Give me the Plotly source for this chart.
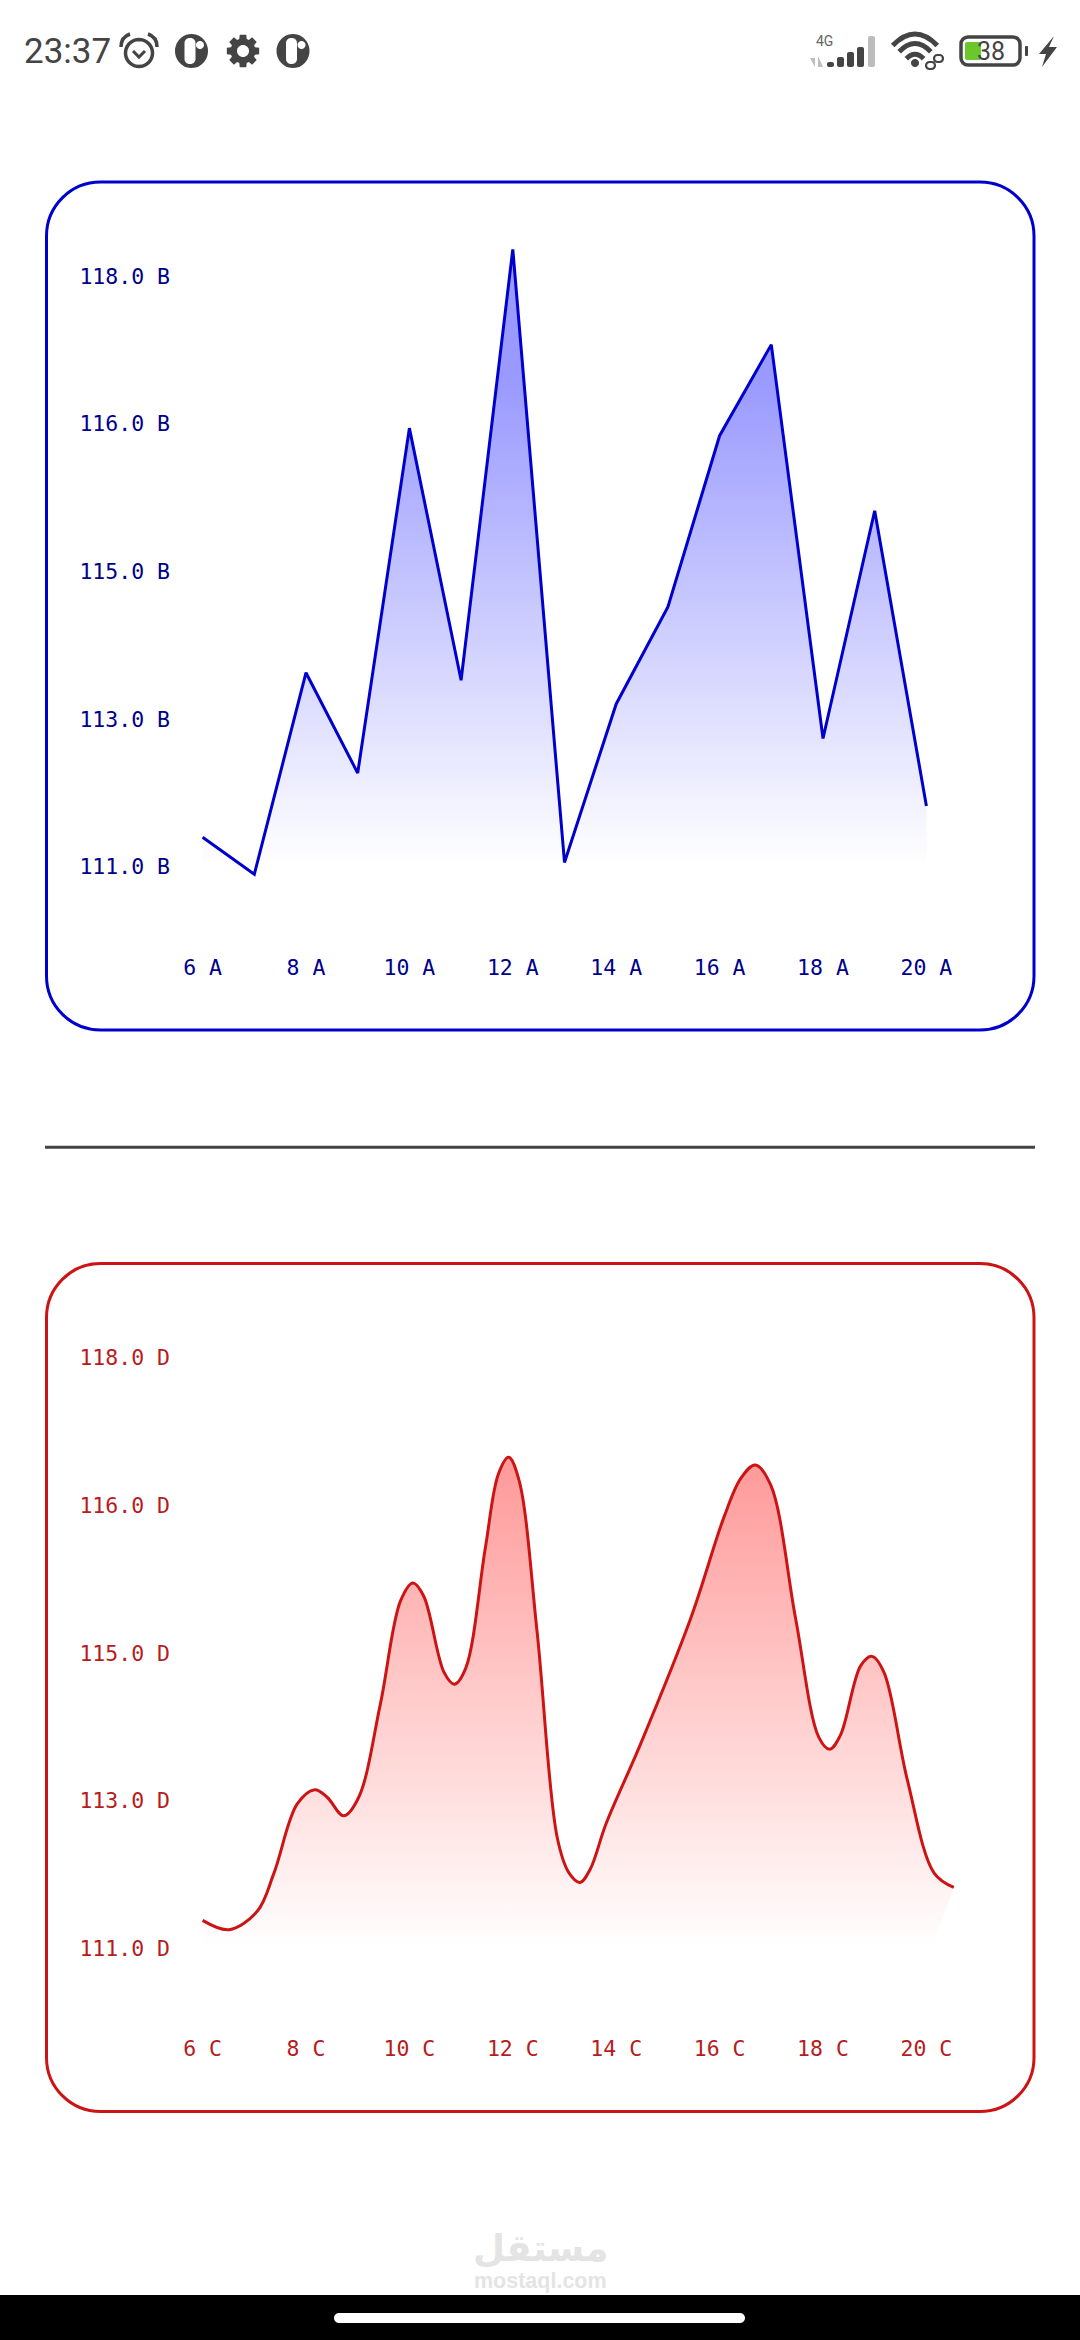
import math
import plotly.graph_objects as go

W, H = 1080, 2340

# ---- data -------------------------------------------------------------
hours = [6, 7, 8, 9, 10, 11, 12, 13, 14, 15, 16, 17, 18, 19, 20]
blue_values = [111.35, 110.91, 113.30, 112.11, 116.20, 113.21, 118.32, 111.05,
               112.93, 114.08, 116.11, 117.19, 112.52, 115.22, 111.72]

red_x = [6.0, 6.51, 7.06, 7.38, 7.83, 8.17, 8.41, 8.73, 9.02, 9.44, 9.83, 10.07, 10.28, 10.67, 10.87,
         11.09, 11.47, 11.72, 11.92, 12.12, 12.47, 12.86, 13.09, 13.30, 13.50, 13.80, 14.47, 15.44,
         16.09, 16.41, 16.69, 16.99, 17.47, 17.92, 18.13, 18.34, 18.73, 18.95, 19.18, 19.63, 20.15, 20.53]
red_y = [111.33, 111.22, 111.44, 111.89, 112.71, 112.88, 112.79, 112.57, 112.79, 113.90, 115.12, 115.33,
         115.17, 114.27, 114.13, 114.32, 115.75, 116.62, 116.82, 116.55, 114.75, 112.31, 111.89, 111.78,
         111.94, 112.47, 113.42, 114.91, 116.12, 116.57, 116.73, 116.49, 114.91, 113.50, 113.36, 113.53,
         114.35, 114.46, 114.27, 113.0, 111.89, 111.72]

y_ticks = [111, 112.75, 114.5, 116.25, 118]
y_tick_numbers = ["111.0", "113.0", "115.0", "116.0", "118.0"]
x_ticks = [6, 8, 10, 12, 14, 16, 18, 20]

BLUE_LINE, BLUE_TEXT = "#0000CD", "#00008B"
RED_LINE, RED_TEXT = "#CC1414", "#B71C1C"
DARK = "#444444"
MONO = "DejaVu Sans Mono"
GRADIENT_STOP = 116.8

# ---- helpers ----------------------------------------------------------
def X(p): return p / W
def Y(p): return 1 - p / H
def P(x, y): return f"{X(x):.5f},{Y(y):.5f}"

def round_rect(x0, y0, x1, y1, r):
    k = r * 0.448
    return (f"M{P(x0+r,y0)} L{P(x1-r,y0)} C{P(x1-k,y0)} {P(x1,y0+k)} {P(x1,y0+r)} "
            f"L{P(x1,y1-r)} C{P(x1,y1-k)} {P(x1-k,y1)} {P(x1-r,y1)} "
            f"L{P(x0+r,y1)} C{P(x0+k,y1)} {P(x0,y1-k)} {P(x0,y1-r)} "
            f"L{P(x0,y0+r)} C{P(x0,y0+k)} {P(x0+k,y0)} {P(x0+r,y0)} Z")

def poly(pts):
    return "M" + " L".join(P(a, b) for a, b in pts) + " Z"

def circle(cx, cy, rx, ry=None, n=40):
    ry = ry or rx
    return poly([(cx + rx*math.cos(2*math.pi*i/n), cy + ry*math.sin(2*math.pi*i/n)) for i in range(n)])

shapes = []
def fill_shape(path, color):
    shapes.append(dict(type="path", path=path, xref="paper", yref="paper", fillcolor=color, line=dict(width=0), layer="above"))
def stroke_shape(path, color, w, layer="above"):
    shapes.append(dict(type="path", path=path, xref="paper", yref="paper", line=dict(color=color, width=w), layer=layer))

fig = go.Figure()

# ---- chart traces -----------------------------------------------------
def add_chart(n, x, y, shape, line_color, rgb, base_x, base_y):
    xa, ya = ("x", "y") if n == 1 else (f"x{n}", f"y{n}")
    fig.add_trace(go.Scatter(x=base_x, y=base_y, mode="lines", line=dict(width=0), xaxis=xa, yaxis=ya,
                             showlegend=False, hoverinfo="skip"))
    fig.add_trace(go.Scatter(x=x, y=y, mode="lines", xaxis=xa, yaxis=ya, showlegend=False,
                             line=dict(color=line_color, width=3, shape=shape, smoothing=1.0),
                             fill="tonexty",
                             fillgradient=dict(type="vertical", start=111, stop=GRADIENT_STOP,
                                               colorscale=[[0, f"rgba({rgb},0)"], [1, f"rgba({rgb},0.4)"]])))

add_chart(1, hours, blue_values, "linear", BLUE_LINE, "0,0,255", [6, 20], [111, 111])
add_chart(2, red_x, red_y, "spline", RED_LINE, "255,0,0", [6, 20.1, 20.53], [111, 111, 111.72])

# ---- axes -------------------------------------------------------------
PX_LEFT, PX_RIGHT = 171, 980
X_AT_6, X_STEP = 202.6, 51.7
Y_AT_111, Y_STEP = 866.7, 147.6 / 1.75
x_range = [6 - (X_AT_6 - PX_LEFT) / X_STEP, 6 + (PX_RIGHT - X_AT_6) / X_STEP]
TOP, BOT = 200, 945
y_range = [111 + (Y_AT_111 - BOT) / Y_STEP, 111 + (Y_AT_111 - TOP) / Y_STEP]
OFFSET = 1081.5

def x_axis(anchor, letter, color):
    return dict(domain=[X(PX_LEFT), X(PX_RIGHT)], range=x_range, anchor=anchor, showgrid=False, zeroline=False,
                showline=False, ticks="", tickmode="array", tickvals=x_ticks,
                ticktext=[f"{t} {letter}" for t in x_ticks], ticklabelstandoff=7,
                tickfont=dict(family=MONO, size=21.5, color=color))
def y_axis(anchor, top, bot, letter, color):
    return dict(domain=[Y(bot), Y(top)], range=y_range, anchor=anchor, showgrid=False, zeroline=False,
                showline=False, ticks="", tickmode="array", tickvals=y_ticks,
                ticktext=[f"{t} {letter}" for t in y_tick_numbers],
                tickfont=dict(family=MONO, size=21.5, color=color))

# ---- panels & divider -------------------------------------------------
stroke_shape(round_rect(46.5, 182, 1034, 1030, 54), BLUE_LINE, 3, "below")
stroke_shape(round_rect(46.5, 182+OFFSET, 1034, 1030+OFFSET, 54), RED_LINE, 3, "below")
shapes.append(dict(type="line", xref="paper", yref="paper", x0=X(45), x1=X(1035), y0=Y(1147.3), y1=Y(1147.3),
                   line=dict(color=DARK, width=3), layer="below"))

# ---- status bar icons -------------------------------------------------
# alarm
stroke_shape(circle(139, 53, 13.5), DARK, 3.5)
stroke_shape(f"M{P(133,51)} L{P(139,57)} L{P(145,51)}", DARK, 3)
stroke_shape(f"M{P(121,47)} Q{P(121,37)} {P(130,34)}", DARK, 3.5)
stroke_shape(f"M{P(157,47)} Q{P(157,37)} {P(148,34)}", DARK, 3.5)
# P icons
for cx in (191.5, 293):
    fill_shape(circle(cx, 51, 16.5, 17), DARK)
    fill_shape(round_rect(cx-7, 38, cx+4, 64, 5), "#FFFFFF")
    fill_shape(circle(cx+8.5, 45, 4), "#FFFFFF")
# gear
gear = []
for i in range(8):
    a = 2*math.pi*i/8
    for da, r in ((-0.3, 12.5), (-0.2, 16.5), (0.2, 16.5), (0.3, 12.5)):
        gear.append((243 + r*math.cos(a+da), 51 + r*math.sin(a+da)))
fill_shape(poly(gear), DARK)
fill_shape(circle(243, 51, 6), "#FFFFFF")
# signal
for x0, top, col in [(827, 62, DARK), (837, 57, DARK), (847, 52, DARK), (857, 47, DARK), (868, 36, "#BDBDBD")]:
    fill_shape(round_rect(x0, top, x0+7, 67, 2), col)
fill_shape(poly([(810, 58), (815, 58), (815, 67)]), "#BDBDBD")
fill_shape(poly([(818, 67), (823, 67), (818, 56)]), "#BDBDBD")
# wifi
for r, w in ((12, 5), (22, 5), (31, 5)):
    a = math.radians(46)
    cx, cy = 915, 67
    xs, ys = cx - r*math.sin(a), cy - r*math.cos(a)
    stroke_shape(f"M{P(xs,ys)} Q{P(cx, cy - r/math.cos(a))} {P(2*cx-xs,ys)}", DARK, w)
fill_shape(circle(915, 63, 4), DARK)
fill_shape(circle(934, 62, 9.5), "#FFFFFF")
stroke_shape(round_rect(926, 62, 935, 69, 3.5), DARK, 2.2)
stroke_shape(round_rect(934, 55, 943, 62, 3.5), DARK, 2.2)
# battery
stroke_shape(round_rect(961, 37, 1020, 65, 7), DARK, 3.5)
fill_shape(round_rect(965, 42, 981, 60, 2), "#6CC72C")
fill_shape(round_rect(1025, 46, 1028, 56, 1), DARK)
fill_shape(poly([(1054, 36), (1039, 54), (1046, 54), (1042, 67), (1057, 47), (1049, 47)]), DARK)

# ---- bottom bar -------------------------------------------------------
fill_shape(poly([(0, 2295), (W, 2295), (W, H), (0, H)]), "#000000")
fill_shape(round_rect(334, 2313, 745, 2323, 5), "#FFFFFF")

# ---- text annotations -------------------------------------------------
def note(text, x, y, size, color, family, anchor="center", bold=False):
    return dict(text=f"<b>{text}</b>" if bold else text, x=X(x), y=Y(y), xref="paper", yref="paper",
                xanchor=anchor, yanchor="middle", showarrow=False, font=dict(size=size, color=color, family=family))

annotations = [
    note("23:37", 22, 51, 35, DARK, "Roboto", "left"),
    note("4G", 824, 41, 14, "#666666", "Roboto"),
    note("38", 991, 51, 25, DARK, "Roboto"),
    note("مستقل", 540, 2248, 37, "#E4E4E4", "DejaVu Sans", bold=True),
    note("mostaql.com", 540, 2281, 21.5, "#E4E4E4", "Liberation Sans", bold=True),
]

fig.update_layout(
    width=W, height=H, autosize=False, margin=dict(l=0, r=0, t=0, b=0),
    paper_bgcolor="white", plot_bgcolor="rgba(0,0,0,0)", showlegend=False,
    xaxis=x_axis("y", "A", BLUE_TEXT), yaxis=y_axis("x", TOP, BOT, "B", BLUE_TEXT),
    xaxis2=x_axis("y2", "C", RED_TEXT), yaxis2=y_axis("x2", TOP+OFFSET, BOT+OFFSET, "D", RED_TEXT),
    shapes=shapes, annotations=annotations,
)

fig.write_html("out.html", config={"displayModeBar": False, "responsive": False},
               post_script="document.body.style.margin='0';document.documentElement.style.overflow='hidden';")
